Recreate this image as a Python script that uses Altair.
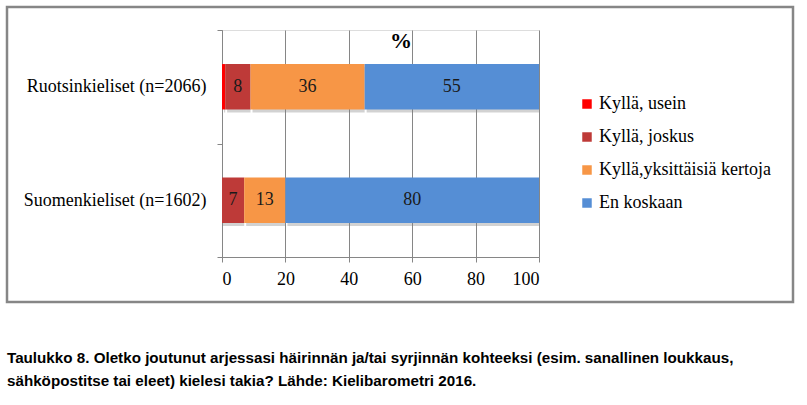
import altair as alt
import pandas as pd

groups = ["Ruotsinkieliset (n=2066)", "Suomenkieliset (n=1602)"]
categories = ["Kyllä, usein", "Kyllä, joskus", "Kyllä,yksittäisiä kertoja", "En koskaan"]
colors = ["#ff0000", "#be3a38", "#f79646", "#558ed5"]
ruotsi = [1, 8, 36, 55]
suomi = [0, 7, 13, 80]
caption_lines = [
    "Taulukko 8. Oletko joutunut arjessasi häirinnän ja/tai syrjinnän kohteeksi (esim. sanallinen loukkaus,",
    "sähköpostitse tai eleet) kielesi takia? Lähde: Kielibarometri 2016.",
]

rows = []
for g, vals in zip(groups, [ruotsi, suomi]):
    for i, (c, v) in enumerate(zip(categories, vals)):
        rows.append({"group": g, "category": c, "value": v, "order": i})
df = pd.DataFrame(rows)
one = pd.DataFrame({"k": [0]})

W, H = 317, 227
SERIF = "Liberation Serif"
FS = 18

base = alt.Chart(df).transform_stack(
    stack="value", groupby=["group"], as_=["x0", "x1"],
    sort=[alt.SortField("order", order="ascending")]
).transform_calculate(mid="(datum.x0 + datum.x1) / 2")

xscale = alt.Scale(domain=[0, 100], nice=False)
yscale = alt.Scale(paddingInner=0, paddingOuter=0)
xaxis = alt.Axis(values=[0, 20, 40, 60, 80, 100], labelFont=SERIF, labelFontSize=FS,
                 labelColor="#000", labelPadding=8, tickSize=5, tickColor="#868686",
                 domainColor="#868686", gridColor="#868686", grid=True)
yaxis = alt.Axis(labelFont=SERIF, labelFontSize=FS, labelColor="#000", labelLimit=0,
                 labelPadding=11, tickBand="extent", tickSize=5,
                 tickColor="#868686", domainColor="#868686", grid=False)

xenc = alt.X("x0:Q", title=None, scale=xscale, axis=xaxis)
yenc = alt.Y("group:N", sort=groups, title=None, scale=yscale, axis=yaxis)

shadow = base.mark_bar(color="#7f7f7f", opacity=0.35, xOffset=2, yOffset=3,
                       height=alt.RelativeBandSize(0.4)).encode(
    x=xenc, x2="x1:Q", y=yenc,
)

bars = base.mark_bar(height=alt.RelativeBandSize(0.4)).encode(
    x=xenc,
    x2="x1:Q",
    y=yenc,
    color=alt.Color("category:N", sort=categories,
                    scale=alt.Scale(domain=categories, range=colors),
                    legend=alt.Legend(title=None, orient="none", legendX=356, legendY=65,
                                      symbolType="square", symbolSize=90, symbolStrokeWidth=0,
                                      labelFont=SERIF, labelFontSize=FS, labelColor="#000",
                                      labelLimit=0, rowPadding=15, labelOffset=3)),
)

labels = base.transform_filter("datum.value >= 5").mark_text(
    font=SERIF, fontSize=FS, color="#1a1a1a"
).encode(
    x=alt.X("mid:Q", scale=xscale, axis=xaxis, title=None),
    y=yenc,
    text="value:Q",
)

pct = alt.Chart(one).mark_text(text="%", font=SERIF, fontSize=22, fontWeight="bold",
                               color="#000").encode(x=alt.value(179), y=alt.value(11))

border = alt.Chart(one).mark_rect(fill=None, stroke="#868686", strokeWidth=2.5).encode(
    x=alt.value(-215), x2=alt.value(571), y=alt.value(-23), y2=alt.value(272))

cap1 = alt.Chart(one).mark_text(text=caption_lines[0], font="Liberation Sans", fontSize=15.2,
                                fontWeight="bold", align="left", color="#000").encode(
    x=alt.value(-215), y=alt.value(328))
cap2 = alt.Chart(one).mark_text(text=caption_lines[1], font="Liberation Sans", fontSize=15.2,
                                fontWeight="bold", align="left", color="#000").encode(
    x=alt.value(-215), y=alt.value(351))

chart = alt.layer(shadow, bars, labels, border, pct, cap1, cap2).properties(
    width=W, height=H,
    autosize=alt.AutoSizeParams(type="none"),
    padding={"left": 222, "top": 30, "right": 268, "bottom": 148},
).configure_view(stroke=None).configure(background="white")

chart.save("out.html", embed_options={"renderer": "svg", "actions": False})
